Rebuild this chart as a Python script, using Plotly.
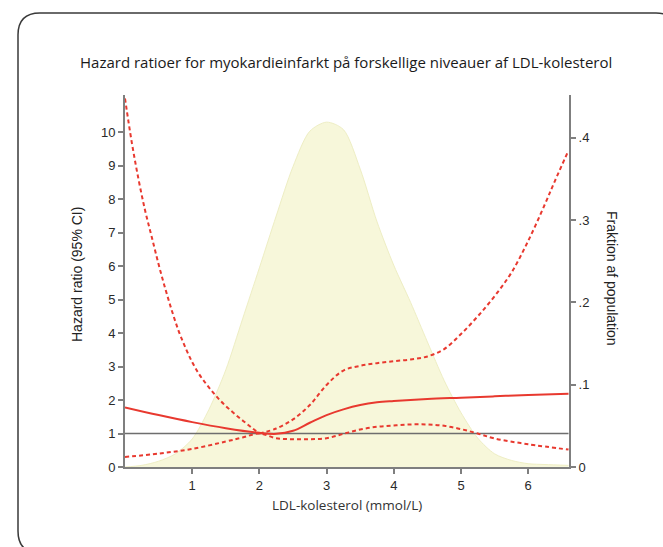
import plotly.graph_objects as go

# ---- data ----
ldl_hr = [0.0, 0.5, 1.0, 1.5, 2.0, 2.25, 2.5, 2.75, 3.0, 3.25, 3.5, 3.75, 4.0, 4.5, 5.0, 5.5, 6.0, 6.6]
hr = [1.78, 1.55, 1.34, 1.16, 1.02, 0.99, 1.08, 1.32, 1.55, 1.72, 1.85, 1.93, 1.97, 2.03, 2.07, 2.11, 2.15, 2.19]

ldl_upper_left = [0.0, 0.1, 0.2, 0.3, 0.4, 0.5, 0.6, 0.7, 0.8, 0.9, 1.0, 1.1, 1.2, 1.3, 1.4, 1.5, 1.6, 1.7, 1.8, 1.9, 2.0]
upper_left = [11.0, 9.7, 8.6, 7.65, 6.85, 6.05, 5.32, 4.65, 4.05, 3.56, 3.13, 2.78, 2.5, 2.25, 2.02, 1.82, 1.64, 1.47, 1.31, 1.15, 1.0]
ldl_upper_right = [2.0, 2.25, 2.5, 2.75, 3.0, 3.25, 3.5, 3.75, 4.0, 4.25, 4.5, 4.75, 5.0, 5.25, 5.5, 5.75, 6.0, 6.25, 6.4, 6.6]
upper_right = [1.0, 1.15, 1.42, 1.85, 2.45, 2.88, 3.02, 3.1, 3.16, 3.21, 3.3, 3.52, 3.97, 4.5, 5.1, 5.8, 6.75, 7.85, 8.55, 9.45]

ldl_lower = [0.0, 0.5, 1.0, 1.5, 1.75, 2.0, 2.25, 2.5, 2.75, 3.0, 3.25, 3.5, 3.75, 4.0, 4.25, 4.5, 4.75, 5.0, 5.25, 5.5, 6.0, 6.6]
lower = [0.30, 0.40, 0.54, 0.76, 0.88, 1.0, 0.86, 0.83, 0.83, 0.86, 0.99, 1.12, 1.20, 1.24, 1.27, 1.27, 1.23, 1.13, 1.0, 0.85, 0.68, 0.52]

ldl_dens = [0.0, 0.25, 0.5, 0.75, 1.0, 1.25, 1.5, 1.75, 2.0, 2.25, 2.5, 2.75, 3.0, 3.25, 3.5, 3.75, 4.0, 4.25, 4.5, 4.75, 5.0, 5.25, 5.5, 5.75, 6.0, 6.25, 6.6]
density = [0.0, 0.002, 0.007, 0.016, 0.034, 0.07, 0.118, 0.18, 0.242, 0.305, 0.365, 0.408, 0.419, 0.41, 0.362, 0.298, 0.245, 0.200, 0.152, 0.105, 0.066, 0.035, 0.016, 0.008, 0.004, 0.003, 0.002]

x_ticks = [1, 2, 3, 4, 5, 6]
hr_ticks = list(range(0, 11))
frac_ticks = [0, 0.1, 0.2, 0.3, 0.4]
frac_labels = ["0", ".1", ".2", ".3", ".4"]
ref_x = [0.0, 6.6]
ref_y = [1.0, 1.0]

title = "Hazard ratioer for myokardieinfarkt på forskellige niveauer af LDL-kolesterol"

# ---- layout geometry ----
W, H = 663, 547
ML, MR, MT, MB = 125, 94, 95, 80
PW, PH = W - ML - MR, H - MT - MB

def px(x):
    return (x - ML) / PW

def py(y):
    return (H - MB - y) / PH

RED = "#e8392f"
AX = "#7f7f7f"

fig = go.Figure()
fig.add_trace(go.Scatter(x=ldl_dens, y=density, yaxis="y", mode="lines",
                         fill="tozeroy", fillcolor="#f7f7da",
                         line=dict(color="#eeeec4", width=1, shape="spline", smoothing=0.8),
                         hoverinfo="skip"))
fig.add_trace(go.Scatter(x=ref_x, y=ref_y, yaxis="y2", mode="lines",
                         line=dict(color="#6e6e6e", width=1.5)))
fig.add_trace(go.Scatter(x=ldl_upper_left, y=upper_left, yaxis="y2", mode="lines",
                         line=dict(color=RED, width=2, dash="4px,3px", shape="spline")))
fig.add_trace(go.Scatter(x=ldl_upper_right, y=upper_right, yaxis="y2", mode="lines",
                         line=dict(color=RED, width=2, dash="4px,3px", shape="spline")))
fig.add_trace(go.Scatter(x=ldl_lower, y=lower, yaxis="y2", mode="lines",
                         line=dict(color=RED, width=2, dash="4px,3px", shape="spline")))
fig.add_trace(go.Scatter(x=ldl_hr, y=hr, yaxis="y2", mode="lines",
                         line=dict(color=RED, width=2, shape="spline")))

tickfont = dict(family="Liberation Sans", size=13, color="#2a2a2a")

fig.update_layout(
    width=W, height=H, showlegend=False,
    margin=dict(l=ML, r=MR, t=MT, b=MB),
    paper_bgcolor="white", plot_bgcolor="white",
    xaxis=dict(range=[0, PW / 67.2], tickvals=x_ticks, ticks="outside", ticklen=5,
               tickwidth=1.5, tickcolor=AX, showline=True, linecolor=AX, linewidth=2,
               showgrid=False, zeroline=False, tickfont=tickfont),
    yaxis=dict(side="right", range=[0, PH / 823.0], tickvals=frac_ticks, ticktext=frac_labels,
               ticks="outside", ticklen=5, tickwidth=1.5, tickcolor=AX, showline=True,
               linecolor=AX, linewidth=2, showgrid=False, zeroline=False, tickfont=tickfont),
    yaxis2=dict(side="left", overlaying="y", range=[0, PH / 33.5], tickvals=hr_ticks,
                ticks="outside", ticklen=5, tickwidth=1.5, tickcolor=AX, showline=True,
                linecolor=AX, linewidth=2, showgrid=False, zeroline=False, tickfont=tickfont),
)

# rounded frame
x0, y0, x1, y1, r = 18, 13, 678, 553, 22
path = (f"M {px(x0+r)},{py(y0)} L {px(x1-r)},{py(y0)} Q {px(x1)},{py(y0)} {px(x1)},{py(y0+r)} "
        f"L {px(x1)},{py(y1-r)} Q {px(x1)},{py(y1)} {px(x1-r)},{py(y1)} "
        f"L {px(x0+r)},{py(y1)} Q {px(x0)},{py(y1)} {px(x0)},{py(y1-r)} "
        f"L {px(x0)},{py(y0+r)} Q {px(x0)},{py(y0)} {px(x0+r)},{py(y0)} Z")
fig.add_shape(type="path", path=path, xref="paper", yref="paper",
              line=dict(color="#3a3a3a", width=1.5), layer="above")

fig.add_annotation(text=title, xref="paper", yref="paper", x=px(346), y=py(62),
                   showarrow=False, xanchor="center", yanchor="middle",
                   font=dict(family="Open Sans", size=15, color="#1a1a1a"))
fig.add_annotation(text="LDL-kolesterol (mmol/L)", xref="paper", yref="paper", x=px(347), y=py(505),
                   showarrow=False, xanchor="center", yanchor="middle",
                   font=dict(family="Open Sans", size=13.5, color="#333333"))
fig.add_annotation(text="Hazard ratio (95% CI)", xref="paper", yref="paper", x=px(77), y=py(275),
                   showarrow=False, textangle=-90, xanchor="center", yanchor="middle",
                   font=dict(family="Liberation Sans", size=14, color="#222222"))
fig.add_annotation(text="Fraktion af population", xref="paper", yref="paper", x=px(612), y=py(278),
                   showarrow=False, textangle=90, xanchor="center", yanchor="middle",
                   font=dict(family="Liberation Sans", size=14, color="#222222"))

fig.write_html("out.html")
